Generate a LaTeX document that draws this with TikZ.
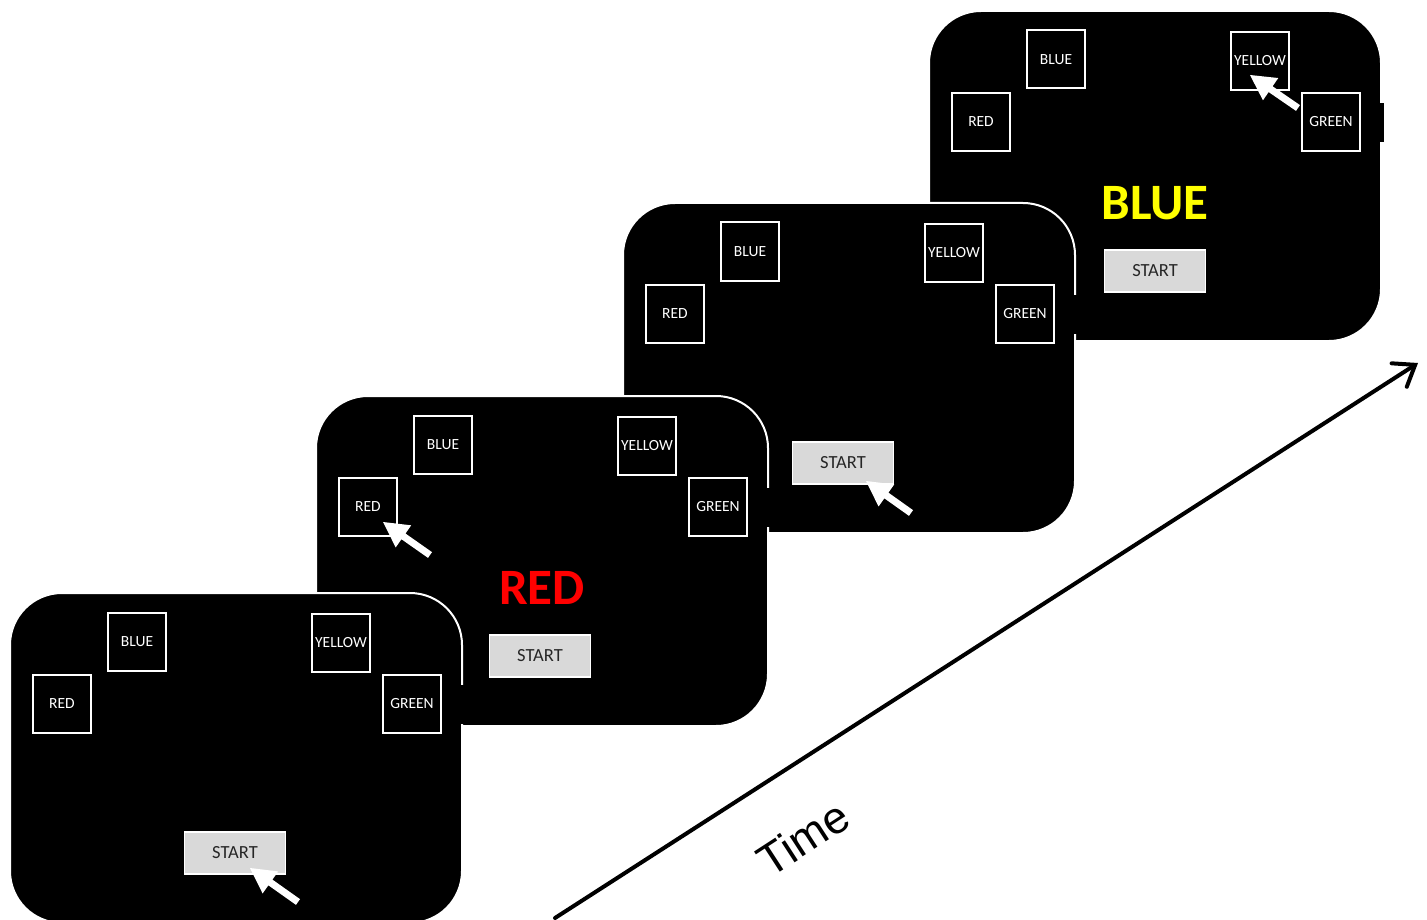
\documentclass[tikz,border=0pt]{standalone}
\usepackage{fontspec}
\setmainfont{Carlito}
\newfontfamily\arialfont{Liberation Sans}
\usetikzlibrary{arrows.meta,calc}

\definecolor{btngray}{HTML}{D9D9D9}
\definecolor{cuered}{HTML}{FF0000}
\definecolor{cueyellow}{HTML}{FFFF00}

\tikzset{
  screen/.style={fill=black, draw=white, line width=2pt, rounded corners=52pt},
  choice/.style={draw=white, fill=black, line width=2pt, minimum width=58pt,
    minimum height=58pt, inner sep=0pt, text=white,
    font=\fontsize{15.5}{16}\selectfont},
  startbtn/.style={draw=white, fill=btngray, line width=1.5pt, minimum width=101pt,
    minimum height=42pt, inner sep=0pt, text=black!85,
    font=\fontsize{18.5}{19}\selectfont},
  cue/.style={font=\bfseries\fontsize{51}{51}\selectfont},
  timeline/.style={line width=4pt, line cap=round,
    -{Straight Barb[length=19pt, width=28pt, line cap=round]}},
}

% one response screen: #1,#2 = top-left corner, #3 = name prefix,
% #4 = pointer tip, #5 = pointer tail, #6 = x of the start button
% (points relative to the screen)
\newcommand\respscreen[6]{%
  \begin{scope}[shift={(#1,#2)}]
    \path[screen] (0,0) rectangle (452,330);
    \fill[black] (449,92) rectangle (455,131);
    \node[choice] (#3-blue)   at (127,48.5) {BLUE};
    \node[choice] (#3-red)    at (52,111)   {RED};
    \node[choice] (#3-yellow) at (331,50)   {YELLOW};
    \node[choice] (#3-green)  at (402,111)  {GREEN};
    \node[startbtn] (#3-start) at (#6,260) {START};
    \coordinate (#3-tip)  at (#4);
    \coordinate (#3-tail) at (#5);
    \coordinate (#3-neck) at ($(#3-tip)!25pt!(#3-tail)$);
    \fill[white] (#3-tip)
      -- ($(#3-neck)!13.5pt!90:(#3-tail)$)
      -- ($(#3-neck)!3.5pt!90:(#3-tail)$)
      -- ($(#3-tail)!3.5pt!-90:(#3-tip)$)
      -- ($(#3-tail)!3.5pt!90:(#3-tip)$)
      -- ($(#3-neck)!3.5pt!-90:(#3-tail)$)
      -- ($(#3-neck)!13.5pt!-90:(#3-tail)$)
      -- cycle;
  \end{scope}}

\begin{document}
\begin{tikzpicture}[x=1pt, y=-1pt]
  \useasboundingbox (0,0) rectangle (1427,920);

  % screens from the last trial step (back) to the first (front)
  \respscreen{929}{11}{s4}{321,64}{369,97}{226}
  \node[cue, text=cueyellow] (s4-cue) at ($(929,11)+(226,192)$) {BLUE};

  \respscreen{623}{203}{s3}{243,278}{288,310}{220}

  \respscreen{316}{396}{s2}{67,126}{114,159}{224}
  \node[cue, text=cuered] (s2-cue) at ($(316,396)+(226,192)$) {RED};

  \respscreen{10}{593}{s1}{240,275}{288,309}{225}

  % time axis
  \coordinate (t0) at (555,918);
  \coordinate (t1) at (1418,363);
  \draw[timeline] (t0) -- (t1);
  \node[font=\arialfont\fontsize{45}{45}\selectfont, rotate=33] (timelbl) at (803,838) {Time};
\end{tikzpicture}
\end{document}
